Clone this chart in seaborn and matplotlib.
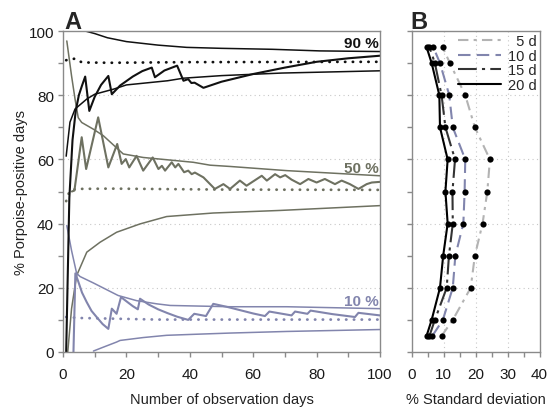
import matplotlib
matplotlib.use("Agg")
import matplotlib.pyplot as plt
import seaborn as sns
import numpy as np

# ---------------- data: panel A ----------------
# 90 % group
up90_x = [0, 7, 10, 14, 20, 30, 39, 50, 66, 81, 100]
up90_y = [100, 100, 99.2, 97.9, 96.7, 95.6, 94.9, 94.6, 94.3, 93.8, 93.6]
lo90_x = [1, 2.2, 3.8, 7.5, 10, 16, 20, 33, 38, 50, 69, 100]
lo90_y = [61, 71.6, 75.7, 78.8, 80.3, 81.9, 83.2, 84.5, 85.3, 86.1, 86.9, 87.6]
mn90_x = [1, 3.8, 6, 15, 40, 100]
mn90_y = [90.9, 91.4, 90.2, 90.1, 90.3, 90.4]
jg90_x = [1, 2, 3, 4, 5, 6, 7, 8.3, 10, 12, 14.3, 15.4, 18, 22, 25, 28, 29, 32, 36, 38,
          39.5, 40.5, 41.5, 44.3, 50, 60, 70, 80, 90, 100]
jg90_y = [0, 48, 66, 75, 80, 83, 85.8, 75.1, 79.5, 83.2, 86, 80.3, 83, 85.8, 87.5, 88.6, 85.6,
          87.7, 89.2, 84.5, 85, 83.8, 83.9, 82.3, 84.2, 86.6, 88.6, 90.4, 91.5, 92.3]

# 50 % group
up50_x = [1.2, 2.7, 3.8, 4.8, 5.9, 9.6, 12.7, 19, 25.3, 41.1, 46.4, 52.7, 70.6, 100]
up50_y = [96.9, 86, 78.8, 73, 71.5, 69.4, 67.4, 61.7, 60.6, 59.1, 58.2, 57.8, 56.5, 54.9]
lo50_x = [1.5, 2.7, 4.3, 7.5, 11.7, 16.9, 24.3, 32.7, 47.4, 68.5, 100]
lo50_y = [0, 13.5, 23.8, 31.1, 34.2, 37.3, 39.9, 42.2, 43.3, 44.1, 45.6]
mn50_x = [1, 2, 4, 15, 50, 100]
mn50_y = [47, 50, 50.8, 50.9, 50.6, 50.5]
jg50_x = [2.8, 3.6, 5.9, 7.3, 11.1, 14.3, 17.1, 18.5, 19.8, 20.9, 23.2, 25.3, 28.3, 30.1,
          31.2, 32.2, 34.3, 35.4, 36.4, 38.2, 39.5, 40.6, 41.6, 44.3, 47.9, 50.6, 52.7,
          55.8, 57.9, 62.7, 64.3, 66.9, 68.5, 70.1, 72.1, 74.8, 77.4, 80, 82.6, 85.8,
          87.9, 90.5, 93.2, 95.8, 97.4, 100]
jg50_y = [50, 50.3, 66.9, 57, 73.1, 57.5, 64.8, 58.6, 60.1, 57.5, 61.1, 56.5, 60.6, 57,
          58, 56.5, 59.1, 57.5, 58.6, 56, 56.5, 55.4, 55.9, 54.4, 50.8, 52.3, 50.8,
          53.4, 51.8, 54.9, 53.4, 55.4, 54.4, 55.1, 53.7, 52.3, 53.9, 52.8, 53.9, 52.3,
          53.4, 52.3, 50.8, 52.3, 52.8, 53]

# 10 % group
up10_x = [1.2, 2.7, 4.3, 5.4, 9.6, 13, 17.4, 23.2, 29.6, 33.8, 52.7, 70.6, 100]
up10_y = [39.4, 31.6, 24.5, 23.5, 21.5, 19.8, 17.6, 16, 15, 14.5, 14.1, 14.1, 13.5]
lo10_x = [9.6, 12.7, 16.9, 18, 25.3, 32.7, 41.1, 52.7, 70.6, 100]
lo10_y = [0.3, 1.5, 3.1, 3.6, 4.5, 5.2, 5.5, 5.9, 6.4, 7]
mn10_x = [1, 5, 30, 100]
mn10_y = [10.9, 10.6, 10.1, 10.1]
jg10_x = [3.3, 3.9, 4.8, 6, 7.5, 9, 10.6, 12.5, 14.3, 15.4, 16.9, 18.3, 20, 22, 23.6, 24.3,
          27, 30, 33, 36, 39.5, 41.4, 45.1, 47.4, 52, 56, 60, 63.7, 65.1, 72.1, 73.2,
          77.1, 78.1, 85, 92.1, 93.2, 100]
jg10_y = [0, 24.5, 22, 18.5, 15.5, 12.8, 10.9, 8.7, 7.2, 13.5, 11.9, 17.1, 15.8, 14.3, 13.3,
          16.6, 14.8, 13.3, 12.1, 11, 10, 11.9, 11.2, 15, 14, 13, 12, 11.2, 12.6, 11.4,
          12.6, 11.9, 12.9, 11.8, 10.9, 12.2, 11.4]

# ---------------- data: panel B ----------------
levels = [5, 10, 20, 30, 40, 50, 60, 70, 80, 90, 95]
sd_5d = [9.4, 12.9, 18.5, 19.8, 22.2, 23.7, 24.5, 19.8, 16.8, 12.0, 9.7]
sd_10d = [6.5, 9.8, 12.9, 13.7, 16.2, 16.6, 16.8, 12.9, 11.8, 8.9, 6.8]
sd_15d = [5.6, 7.3, 11.0, 11.7, 12.9, 12.8, 13.6, 10.6, 9.4, 7.3, 5.6]
sd_20d = [4.7, 6.3, 8.9, 9.9, 11.3, 10.6, 11.3, 8.9, 8.7, 6.3, 4.7]
legend_labels = ["  5 d", "10 d", "15 d", "20 d"]

# ---------------- style ----------------
sns.set_theme(style="white")
plt.rcParams['font.family'] = ['Liberation Sans', 'DejaVu Sans']

C90 = "#111111"
C50 = "#6e7161"
C10 = "#8285ad"
SPINE = "#8a8a8a"
GRID = "#c8c8c8"

fig = plt.figure(figsize=(5.49, 4.10), dpi=100)
axA = fig.add_axes([63 / 549, 57 / 410, 317 / 549, 321 / 410])
axB = fig.add_axes([411.5 / 549, 57 / 410, 128 / 549, 321 / 410])


def line(ax, x, y, color, lw, **kw):
    sns.lineplot(x=x, y=y, ax=ax, color=color, lw=lw, sort=False,
                 estimator=None, legend=False, **kw)


dot = dict(linestyle=(0, (0.1, 2.7)), dash_capstyle="round")

for (ux, uy, lx, ly, mx, my, jx, jy, c, jlw) in [
    (up50_x, up50_y, lo50_x, lo50_y, mn50_x, mn50_y, jg50_x, jg50_y, C50, 1.5),
    (up10_x, up10_y, lo10_x, lo10_y, mn10_x, mn10_y, jg10_x, jg10_y, C10, 1.5),
    (up90_x, up90_y, lo90_x, lo90_y, mn90_x, mn90_y, jg90_x, jg90_y, C90, 1.5),
]:
    line(axA, ux, uy, c, 1.1)
    line(axA, lx, ly, c, 1.1)
    line(axA, mx, my, c, 2.0, **dot)
    line(axA, jx, jy, c, jlw)

axA.set_xlim(0, 100)
axA.set_ylim(0, 100)
axA.set_xticks([0, 20, 40, 60, 80, 100])
axA.set_xticks([10, 30, 50, 70, 90], minor=True)
axA.set_yticks([0, 20, 40, 60, 80, 100])
axA.set_yticks([10, 30, 50, 70, 90], minor=True)
for yv in [20, 40, 60, 80]:
    axA.axhline(yv, color=GRID, lw=0.8, linestyle=(0, (1, 3)), zorder=0)
axA.set_xlabel("Number of observation days", fontsize=10.5, color="#222222", labelpad=8)
axA.set_ylabel("% Porpoise-positive days", fontsize=10.5, color="#222222", labelpad=0)

axA.text(99.5, 95.0, "90 %", ha="right", va="baseline", fontsize=11, fontweight="bold", color=C90)
axA.text(99.5, 56.0, "50 %", ha="right", va="baseline", fontsize=11, fontweight="bold", color=C50)
axA.text(99.5, 14.6, "10 %", ha="right", va="baseline", fontsize=11, fontweight="bold", color=C10)

# ---------------- panel B ----------------
styles = [
    (sd_5d, "#b3b3b3", (0, (5, 2.5, 1.5, 2.5))),
    (sd_10d, "#8185ad", (0, (6, 3))),
    (sd_15d, "#333333", (0, (9, 2.5, 1.5, 2.5))),
    (sd_20d, "#000000", "-"),
]
handles = []
for sd, c, ls in styles:
    line(axB, sd, levels, c, 1.5, linestyle=ls)
    handles.append(axB.get_lines()[-1])
for sd, c, ls in styles:
    sns.scatterplot(x=sd, y=levels, ax=axB, color="black", s=20, edgecolor="black",
                    linewidth=0, zorder=5, legend=False)

axB.set_xlim(0, 40)
axB.set_ylim(0, 100)
axB.set_xticks([0, 10, 20, 30, 40])
axB.set_xticks([5, 15, 25, 35], minor=True)
axB.set_yticks([0, 20, 40, 60, 80, 100])
axB.set_yticks([10, 30, 50, 70, 90], minor=True)
axB.set_yticklabels([])
for yv in [20, 40, 60, 80]:
    axB.axhline(yv, color=GRID, lw=0.8, linestyle=(0, (1, 3)), zorder=0)
for xv in [10, 20, 30]:
    axB.axvline(xv, color=GRID, lw=0.8, linestyle=(0, (1, 3)), zorder=0)
axB.set_xlabel("% Standard deviation", fontsize=10.5, color="#222222", labelpad=8)
axB.set_ylabel("")
leg = axB.legend(handles, legend_labels, loc="upper right", frameon=False,
                 fontsize=10.5, handlelength=2.9, handletextpad=0.5,
                 labelspacing=0.05, borderaxespad=0.1, borderpad=0.1)

for ax in (axA, axB):
    for s in ax.spines.values():
        s.set_color(SPINE)
        s.set_linewidth(1.0)
        s.set_visible(True)
    ax.tick_params(which="both", direction="out", length=3.5, width=1.0, color=SPINE,
                   labelsize=11, labelcolor="#1a1a1a", left=True, bottom=True)
    ax.tick_params(axis="x", which="both", pad=7)
    ax.tick_params(axis="y", which="both", pad=3)

fig.text(64 / 549, 1 - 29 / 410, "A", fontsize=17, fontweight="bold", ha="left", va="baseline")
fig.text(410.5 / 549, 1 - 29 / 410, "B", fontsize=17, fontweight="bold", ha="left", va="baseline")

fig.savefig("out.png", dpi=100)
